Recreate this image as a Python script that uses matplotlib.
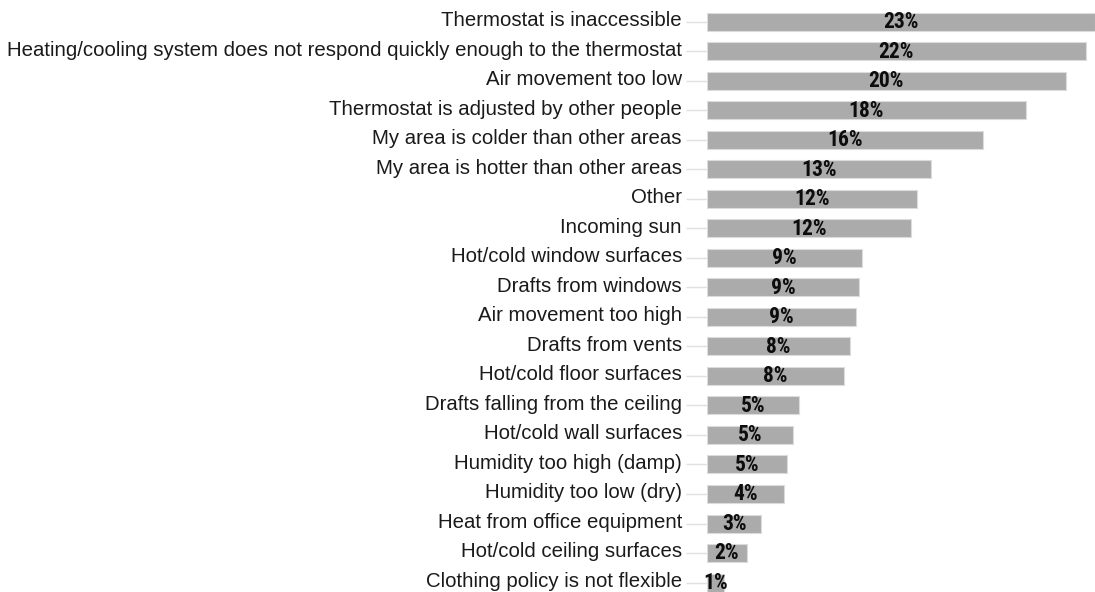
import matplotlib
matplotlib.use('Agg')
import matplotlib.pyplot as plt
from matplotlib.transforms import ScaledTranslation

# categories, top to bottom
categories = [
    'Thermostat is inaccessible',
    'Heating/cooling system does not respond quickly enough to the thermostat',
    'Air movement too low',
    'Thermostat is adjusted by other people',
    'My area is colder than other areas',
    'My area is hotter than other areas',
    'Other',
    'Incoming sun',
    'Hot/cold window surfaces',
    'Drafts from windows',
    'Air movement too high',
    'Drafts from vents',
    'Hot/cold floor surfaces',
    'Drafts falling from the ceiling',
    'Hot/cold wall surfaces',
    'Humidity too high (damp)',
    'Humidity too low (dry)',
    'Heat from office equipment',
    'Hot/cold ceiling surfaces',
    'Clothing policy is not flexible',
]
# bar lengths (percent) as drawn
values = [22.45, 21.92, 20.77, 18.46, 15.95, 12.95, 12.14, 11.79, 8.96, 8.80,
          8.63, 8.30, 7.95, 5.32, 4.99, 4.62, 4.47, 3.14, 2.31, 1.00]
# printed labels
pct_labels = [23, 22, 20, 18, 16, 13, 12, 12, 9, 9, 9, 8, 8, 5, 5, 5, 4, 3, 2, 1]

plt.rcParams['font.family'] = ['Liberation Sans', 'DejaVu Sans']

fig = plt.figure(figsize=(10.95, 5.92), dpi=100)
ax = fig.add_axes([707 / 1095, 0.0, 1 - 707 / 1095, 1.0])

ypos = list(range(len(categories)))
ax.barh(ypos, values, height=0.61, color='#ababab', edgecolor='#dcdcdc', linewidth=0.8)

for y, v, lab in zip(ypos, values, pct_labels):
    ax.text(v / 2, y + 0.01, f'{lab}%', ha='center', va='center',
            fontsize=15.5, fontweight='bold', color='#0d0d0d',
            family=['Roboto Condensed', 'DejaVu Sans'])

ax.set_xlim(0, values[0])
ax.set_ylim(19.32, -0.735)
ax.set_yticks(ypos)
ax.set_yticklabels(categories, fontsize=14.7, color='#1a1a1a')
ax.tick_params(axis='y', length=15, width=1, color='#e0e0e0', pad=3)
# labels sit a little above the tick line
for t in ax.get_yticklabels():
    t.set_transform(t.get_transform() + ScaledTranslation(0, 2.2 / 72, fig.dpi_scale_trans))
ax.set_xticks([])
for s in ax.spines.values():
    s.set_visible(False)

fig.savefig('out.png', dpi=100)
